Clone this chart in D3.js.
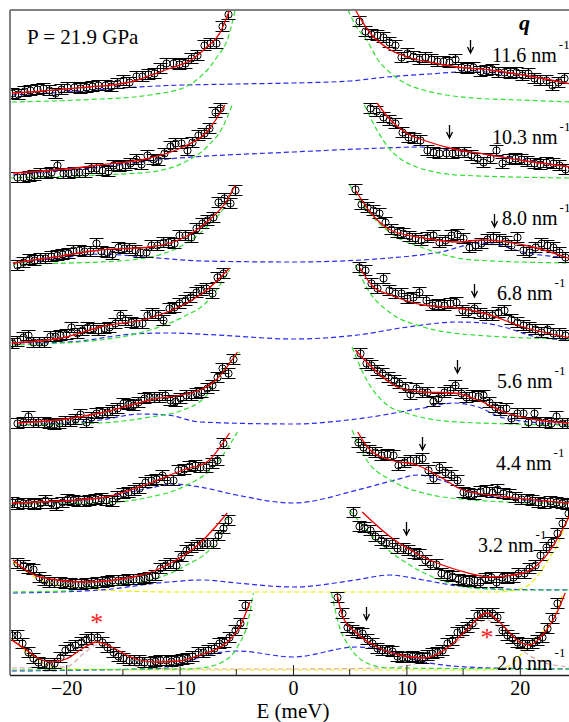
<!DOCTYPE html>
<html>
<head>
<meta charset="utf-8">
<script src="https://cdn.jsdelivr.net/npm/d3@7/dist/d3.min.js"></script>
<style>
  body { margin: 0; background: #fff; }
  svg text { font-family: "Liberation Serif", "Times New Roman", "DejaVu Serif", serif; }
</style>
</head>
<body>
<svg id="chart" width="569" height="722"></svg>
<script>
// q values (nm^-1), top to bottom, and vertical offset of each spectrum
const qValues = ['11.6', '10.3', '8.0', '6.8', '5.6', '4.4', '3.2', '2.0'];
const offsets = [573, 495, 410, 330, 250, 170, 80, 3];
const errHalf = 5;

// first/last energy (meV) of measured points on each side of the elastic line
const leftE = [[-24.8, -5.7], [-24.3, -6.4], [-24.3, -5.1], [-24.8, -6.2], [-24.3, -5.3], [-24.8, -6.2], [-24.3, -5.7], [-24.8, -4.2]];
const rightE = [[5.8, 23.9], [6.8, 24.0], [5.5, 24.0], [5.8, 24.0], [5.9, 24.2], [5.7, 24.2], [5.3, 24.25], [3.9, 23.3]];

// measured intensities (arb. units)
const leftI = [
  [9,8,11,12,13,14,12,9,13,15,15,14,15,16,17,17,16,19,22,20,26,26,28,29,34,39,39,38,39,44,47,57,59,59,76,88],
  [3,3,4,5,7,7,8,15,7,7,8,8,8,12,12,10,9,15,14,15,17,21,16,25,21,20,27,34,37,37,30,38,45,47,52,68,72],
  [0,3,6,5,7,7,9,10,11,12,15,15,14,14,22,14,13,11,18,17,17,15,13,13,20,20,23,23,22,30,30,28,37,42,45,48,63,67,62,75],
  [2,4,8,10,3,3,3,9,9,10,11,18,12,15,18,17,15,17,18,22,30,25,23,22,22,30,32,30,25,37,38,42,45,48,53,55,57,52,68,72],
  [2,3,9,3,3,3,2,1,2,4,4,6,11,3,8,12,13,13,15,17,22,21,20,23,27,28,28,28,30,25,24,27,30,30,32,33,37,40,48,57,52,66],
  [3,1,2,2,1,2,5,2,0,3,6,5,4,4,5,6,7,5,4,9,12,13,15,17,23,25,26,30,25,25,35,36,39,40,38,38,42,45,62],
  [32,30,27,26,18,15,13,13,13,12,12,11,11,12,12,13,13,14,15,15,15,16,16,16,17,18,20,27,30,32,30,39,45,48,50,52,52,52,60,67,75],
  [37,37,29,20,14,10,9,7,9,15,22,25,27,30,33,35,35,30,25,20,16,14,12,12,12,10,10,11,12,12,11,12,13,14,16,20,20,22,24,29,30,35,42,49,67]
];
const rightI = [
  [81,71,68,67,65,60,57,45,49,46,43,45,43,41,41,40,43,35,34,35,31,32,33,30,30,29,30,27,29,24,22,22,17,20,24],
  [72,69,63,60,57,48,43,42,40,30,28,27,27,27,28,28,25,22,18,22,30,17,21,22,21,19,17,16,18,17,15,11],
  [76,61,58,55,52,43,36,33,32,29,27,25,28,30,23,25,30,31,27,18,20,22,26,28,26,24,20,28,15,13,18,22,20,18,13,8],
  [78,75,62,57,67,55,52,52,47,48,53,45,40,41,40,42,43,35,33,37,32,30,30,33,35,26,23,20,18,16,13,16,12,12,10],
  [72,62,60,55,52,48,45,42,38,31,37,33,33,24,27,33,35,40,32,28,30,29,30,23,18,15,17,7,12,12,3,12,3,3,2,9,2,2],
  [63,58,55,53,50,51,50,40,43,45,45,47,35,27,38,33,30,25,13,12,11,14,15,13,16,12,11,8,6,6,5,3,2,4,3,2,1],
  [83,69,68,65,59,55,52,52,47,47,45,42,41,35,31,31,22,20,19,16,15,14,15,13,17,18,13,18,17,18,22,22,27,30,40,48,53,62,72,82],
  [75,59,45,42,40,39,33,29,24,22,22,21,16,15,15,16,15,14,17,19,20,22,29,32,40,42,45,49,57,59,59,59,55,42,37,34,30,29,27,29,32,35,44,54,69]
];

// total fit (red), read as [E, I]
const fitLeft = [
  [[-24.8,9],[-22,11],[-20,13],[-18,15],[-16,17],[-14,21],[-12.5,27],[-11,33],[-9,42],[-7.6,55],[-6.4,70],[-5.6,92]],
  [[-24.7,7],[-21,10],[-17,15],[-12.6,22],[-9.7,33],[-7.6,48],[-6,75]],
  [[-24.7,2],[-21,8],[-17,15],[-12.6,18],[-9.7,27],[-7.6,43],[-5.8,65],[-5.1,80]],
  [[-24.8,2],[-20,8],[-17,18],[-12.6,27],[-9.7,40],[-7.6,55],[-5.6,77]],
  [[-24.3,2],[-20,6],[-17,12],[-12.6,25],[-8.2,35],[-6.8,45],[-4.9,73]],
  [[-24.8,2],[-17,7],[-12.6,22],[-9.7,35],[-7.6,43],[-5.6,72]],
  [[-24.7,35],[-22.3,18],[-18.5,13],[-14.1,18],[-11.1,30],[-8.2,52],[-5.8,82]],
  [[-24.8,32],[-23.5,22],[-22.5,14],[-21.4,10],[-20,13],[-18.5,24],[-17.3,30],[-16,25],[-14.1,14],[-12,10],[-10,11],[-8.2,17],[-5.8,30],[-4.7,45],[-3.8,70]]
];
const fitRight = [
  [[5.5,92],[6.8,69],[8.6,52],[10.1,45],[12,40],[14.5,35],[17.4,32],[20.3,27],[24.5,18]],
  [[7.4,77],[8.6,60],[10,47],[12,38],[13.8,32],[17.4,25],[20,20],[24.5,13]],
  [[5.5,75],[6.8,53],[8.6,35],[11.5,27],[14.5,23],[16.8,25],[18.9,23],[21.5,17],[24.5,6]],
  [[5.9,77],[7.1,58],[8.6,50],[11.5,40],[14.5,37],[16.8,32],[20.3,18],[24.5,7]],
  [[5.5,75],[7.4,53],[9.4,37],[11.5,33],[14.2,32],[16.3,25],[18.6,13],[21.5,5],[24.5,2]],
  [[5.7,73],[6.8,55],[8.6,45],[10.9,40],[13,28],[15,15],[18.9,8],[24.5,2]],
  [[6.1,83],[8.6,58],[11.5,38],[14.5,25],[17.4,18],[20.3,22],[22,35],[24.2,75],[24.5,82]],
  [[3.9,77],[4.4,55],[5.6,39],[7.4,25],[9.4,17],[11.5,14],[13.6,24],[15.3,42],[17.1,59],[18.3,49],[20,30],[20.9,27],[22,37],[23.3,60],[24,79]]
];

// central (quasi-elastic) component, green
const greenLeft = [
  [[-24.8,0],[-20,1.5],[-17,3],[-14,5],[-12.6,7],[-11,10],[-10.2,12],[-9,18],[-8.2,25],[-7.4,34],[-6.7,45],[-5.7,65],[-5.1,92]],
  [[-25,2],[-17,5],[-12.6,8],[-9.7,17],[-7.6,33],[-6.2,53],[-5.3,77]],
  [[-24.7,1],[-17,3],[-12.6,8],[-9.7,20],[-7.6,38],[-5.8,63],[-5.2,78]],
  [[-24.8,0],[-17,5],[-12.6,15],[-9.7,28],[-7.6,43],[-5.6,75]],
  [[-24.3,0],[-17,2],[-12.6,8],[-9.7,15],[-7.6,30],[-6.8,45],[-4.7,73]],
  [[-24.8,1],[-17,2],[-12.6,8],[-9.7,18],[-6.7,42],[-4.9,73]],
  [[-24.7,3],[-20,4],[-18.5,7],[-12.6,15],[-9.7,28],[-6.7,55],[-5.6,82]],
  [[-24.8,2],[-10,3],[-8.2,4],[-6.4,9],[-4.9,25],[-4,49],[-3.5,79]]
];
const greenRight = [
  [[4.85,92],[5.6,75],[6.5,62],[7.5,42],[8.6,29],[10,18],[11.5,12],[13.5,7],[15.9,4],[20,2],[24.5,0]],
  [[6.3,75],[7.4,50],[8.6,30],[9.5,21],[10.9,13],[12.5,8],[14.5,5],[24.5,2]],
  [[5,80],[6.5,55],[8.6,32],[11.5,17],[15.9,5],[24.5,2]],
  [[5.5,80],[6.8,52],[8.6,32],[11.5,18],[15.9,10],[24.5,6]],
  [[5.2,78],[6.5,45],[8.3,20],[10,12],[14.5,3],[24.5,0]],
  [[5.2,75],[6.5,45],[8.6,25],[11.5,12],[15.9,5],[24.5,1]],
  [[5,85],[7.1,58],[10,32],[13,15],[15.9,7],[20,5],[24.5,5]],
  [[3.4,79],[4.1,45],[5,25],[6.5,9],[8.5,4],[24.5,3]]
];

// phonon component, blue
const blueLine = [
  [[-24.8,7],[-20,10],[-15,14],[-12,16],[-5,18],[0,19],[5,21],[8.3,25],[12,28],[15,30],[17.4,30],[20.3,27],[23.5,20],[24.5,18]],
  [[-24.7,5],[-17,13],[-11,21],[0,28],[8,32],[11,33],[14,30],[18,24],[24.5,13]],
  [[-24.7,2],[-20.5,7],[-17,11],[-13,8],[-8,4],[0,3],[8.5,7],[13,13],[16.5,22],[18,20],[20.3,13],[24.5,7]],
  [[-24.8,2],[-19.9,3],[-14,11],[-11,12],[-6.7,10],[0,6],[5.7,10],[10.1,18],[14.5,23],[16.8,22],[18.9,17],[21.5,8],[24.5,5]],
  [[-24.3,0],[-17,5],[-13.5,11],[-11.1,10],[-8.2,3],[0,1],[5.6,6],[11.5,17],[14.2,22],[16.3,18],[18.6,7],[24.5,0]],
  [[-24.8,1],[-17,7],[-12.6,17],[-10.6,21],[-8.2,18],[-5,10],[0,2],[5.7,15],[9,25],[11,30],[13,25],[15.9,12],[20.3,5],[24.5,2]],
  [[-24.7,2],[-17,5],[-11,13],[-8,15],[-5,12],[0,8],[5.5,15],[8.5,20],[11.5,15],[14.5,9],[18,6],[24.5,5]],
  [[-24.8,1],[-11.1,4],[-9.7,9],[-7.6,17],[-4.9,21],[0,15],[5.6,25],[8.6,20],[12,9],[17.4,4],[24.5,3]]
];

// extra components of the two lowest q spectra: yellow, and pink (spurious peaks *)
const yellowLine = {
  6: [[-24.7,33],[-22.3,15],[-20,9],[-18.5,7],[-15,4],[-10,3],[0,3],[10,3],[18,3],[20.3,7],[21.5,18],[22.5,35],[23.5,55],[24.2,78]],
  7: [[-24.8,34],[-23.5,20],[-21.7,7],[-19.9,3],[-10,2],[0,2],[17,2],[19,6],[20.6,24],[22,40],[22.9,52],[23.8,79]]
};
const pinkLine = [[-24.8,4],[-20,5],[-18.5,18],[-17.3,27],[-16,20],[-14,6],[-10,3],[0,3],[8,4],[11,9],[13,18],[15,35],[17,52],[18.5,42],[20,24],[22,10],[24.5,5]];

// phonon positions marked with arrows [E, I at arrow tip]
const arrows = [[15.6,49],[13.8,42],[17.7,38],[16.0,48],[14.5,52],[11.4,55],[10.0,60],[6.4,52]];
const asterisks = [[-17.3,55],[17.1,40]];

const xTicks = [-20, -10, 0, 10, 20];
const xMinor = [-15, -5, 5, 15];

// label layout: [x of text start, baseline]
const labelPos = [[492,62],[492,144],[502,225],[497,300],[497,388],[496,470],[478,552],[497,670]];

const serif = '"Liberation Serif", "Times New Roman", "DejaVu Serif", serif';
const svg = d3.select('#chart').attr('font-family', serif);
const x = d3.scaleLinear().domain([-25, 25]).range([9.5, 576.5]);
const y = d3.scaleLinear().domain([0, 665]).range([675, 10]);

svg.append('defs').append('clipPath').attr('id', 'plotClip')
  .append('rect').attr('x', 10).attr('y', 10).attr('width', 570).attr('height', 665);

const plot = svg.append('g').attr('clip-path', 'url(#plotClip)');

function lineFor(i) {
  return d3.line()
    .x(d => x(d[0]))
    .y(d => y(offsets[i] + d[1]))
    .curve(d3.curveMonotoneX);
}

function dashed(g, pts, i, color) {
  g.append('path')
    .attr('d', lineFor(i)(pts))
    .attr('fill', 'none')
    .attr('stroke', color)
    .attr('stroke-width', 1.2)
    .attr('stroke-dasharray', '5,3');
}

qValues.forEach((q, i) => {
  let g = plot.append('g').attr('class', 'spectrum');

  if (i === 7) dashed(g, pinkLine, i, '#d9a8a8');
  if (yellowLine[i]) dashed(g, yellowLine[i], i, '#eeee00');
  dashed(g, blueLine[i], i, '#2a2af0');
  dashed(g, greenLeft[i], i, '#2ee02e');
  dashed(g, greenRight[i], i, '#2ee02e');

  // measured points with error bars
  let pts = [];
  [[leftE[i], leftI[i]], [rightE[i], rightI[i]]].forEach(([er, vals]) => {
    let eAt = d3.scaleLinear().domain([0, vals.length - 1]).range(er);
    vals.forEach((v, k) => pts.push([eAt(k), v]));
  });

  let pt = g.selectAll('g.pt').data(pts).enter().append('g').attr('class', 'pt')
    .attr('transform', d => `translate(${Math.round(x(d[0])) + 0.5},${Math.round(y(offsets[i] + d[1])) + 0.5})`);
  let ebar = Math.round(y(0) - y(errHalf));
  pt.append('line').attr('x1', 0).attr('x2', 0).attr('y1', -ebar).attr('y2', ebar)
    .attr('stroke', '#000').attr('stroke-width', 1);
  pt.append('line').attr('x1', -7).attr('x2', 7).attr('y1', -ebar).attr('y2', -ebar)
    .attr('stroke', '#000').attr('stroke-width', 1);
  pt.append('line').attr('x1', -7).attr('x2', 7).attr('y1', ebar).attr('y2', ebar)
    .attr('stroke', '#000').attr('stroke-width', 1);
  pt.append('circle').attr('r', 3.6).attr('fill', 'none')
    .attr('stroke', '#000').attr('stroke-width', 1);

  [fitLeft[i], fitRight[i]].forEach(f => {
    g.append('path').attr('d', lineFor(i)(f))
      .attr('fill', 'none').attr('stroke', '#ee0000').attr('stroke-width', 1.3);
  });

  // arrow
  let a = arrows[i];
  let ax = Math.round(x(a[0])) + 0.5, ay = y(offsets[i] + a[1]);
  g.append('line').attr('x1', ax).attr('x2', ax).attr('y1', ay - 13).attr('y2', ay - 1)
    .attr('stroke', '#000').attr('stroke-width', 1.3);
  g.append('path').attr('d', `M${ax - 3},${ay - 6}L${ax},${ay}L${ax + 3},${ay - 6}`)
    .attr('fill', 'none').attr('stroke', '#000').attr('stroke-width', 1.3);

  // q label
  let t = svg.append('text').attr('x', labelPos[i][0]).attr('y', labelPos[i][1])
    .attr('font-family', serif).attr('font-size', 20).attr('fill', '#000');
  t.append('tspan').text(q + ' nm');
  t.append('tspan').attr('dx', 2).attr('dy', -13).attr('font-size', 13).text('-1');
});

// spurious peaks
svg.selectAll('text.ast').data(asterisks).enter().append('text')
  .attr('class', 'ast')
  .attr('x', d => x(d[0]))
  .attr('y', d => y(offsets[7] + d[1]) + 14)
  .attr('text-anchor', 'middle')
  .attr('font-family', serif)
  .attr('font-size', 26)
  .attr('fill', '#ff2020')
  .text('*');

// frame
svg.append('line').attr('x1', 10).attr('x2', 569).attr('y1', 10).attr('y2', 10)
  .attr('stroke', '#808080').attr('stroke-width', 2);
svg.append('line').attr('x1', 10).attr('x2', 10).attr('y1', 10).attr('y2', 675)
  .attr('stroke', '#808080').attr('stroke-width', 2);

// bottom axis, ticks pointing inwards
const xAxis = svg.append('g').attr('transform', `translate(0,${y(0)})`)
  .call(d3.axisBottom(x).tickValues(xTicks).tickSize(-10).tickPadding(8).tickSizeOuter(0));
xAxis.attr('font-family', serif).attr('font-size', 20);
xAxis.select('.domain').attr('stroke', '#222').attr('stroke-width', 1.5);
xAxis.selectAll('.tick line').attr('stroke', '#222');
xAxis.selectAll('.tick text')
  .attr('font-family', serif)
  .attr('font-size', 20)
  .attr('fill', '#000')
  .attr('dy', '0.6em');
svg.append('g').selectAll('line').data(xMinor).enter().append('line')
  .attr('x1', d => x(d)).attr('x2', d => x(d))
  .attr('y1', y(0) - 6).attr('y2', y(0))
  .attr('stroke', '#222');

svg.append('text').attr('x', x(0)).attr('y', 718).attr('text-anchor', 'middle')
  .attr('font-family', serif).attr('font-size', 21).text('E (meV)');

svg.append('text').attr('x', 27).attr('y', 44).attr('font-family', serif)
  .attr('font-size', 21).text('P = 21.9 GPa');
svg.append('text').attr('x', 519).attr('y', 30).attr('font-family', serif).attr('font-size', 22)
  .attr('font-weight', 'bold').attr('font-style', 'italic').text('q');
</script>
</body>
</html>
